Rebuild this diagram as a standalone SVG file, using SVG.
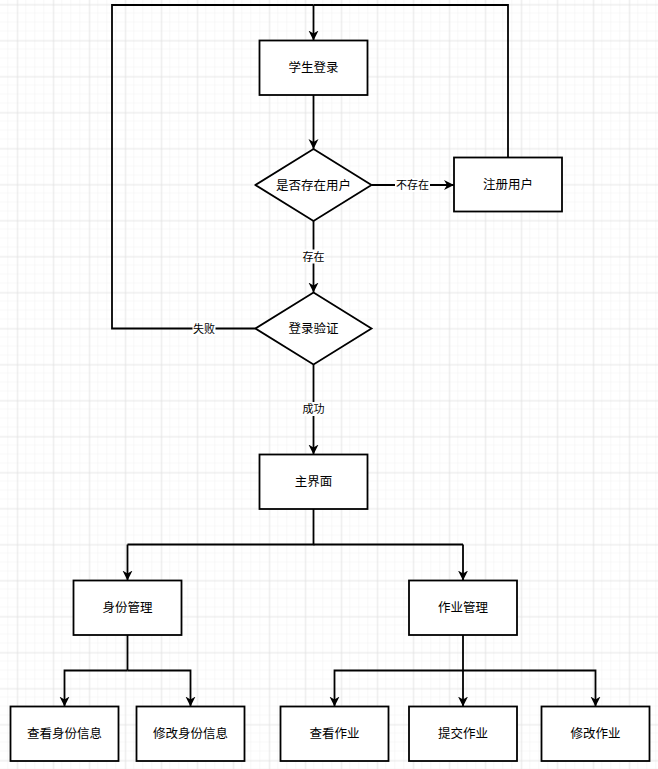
<svg xmlns="http://www.w3.org/2000/svg" width="658" height="769" viewBox="0 0 658 769">
<defs>
<pattern id="minor" x="8.3" y="4.5" width="9" height="9" patternUnits="userSpaceOnUse">
<path d="M9 0V9M0 9H9" fill="none" stroke="#f0f0f0" stroke-width="1"/>
</pattern>
<pattern id="major" x="17.3" y="4.5" width="36" height="36" patternUnits="userSpaceOnUse">
<path d="M0 0V36M0 0H36" fill="none" stroke="#dadada" stroke-width="1"/>
</pattern>
<marker id="arr" markerUnits="userSpaceOnUse" viewBox="0 0 10 10" refX="10" refY="5" markerWidth="10" markerHeight="11" orient="auto">
<path d="M0 0L10 5L0 10L3 5Z" fill="#000"/>
</marker>
</defs>
<style>
.n{fill:#fff;stroke:#000;stroke-width:1.8}
.t{font-family:"Noto Sans CJK SC","Noto Sans",sans-serif;font-size:12.5px;fill:#000;text-anchor:middle;dominant-baseline:central}
.l{font-family:"Noto Sans CJK SC","Noto Sans",sans-serif;font-size:11px;fill:#000;text-anchor:middle;dominant-baseline:central}
.e{fill:none;stroke:#000;stroke-width:1.8}
.a{marker-end:url(#arr)}
.lb{fill:#fff}
</style>
<rect width="658" height="769" fill="#fff"/>
<rect width="658" height="769" fill="url(#minor)"/>
<rect width="658" height="769" fill="url(#major)"/>
<g id="connectors">
<path class="e" d="M508 157.5V5H313.5"/>
<path class="e" d="M255.5 328.5H112V5H313.5"/>
<path class="e a" d="M313.5 5V40.5"/>
<path class="e a" d="M313.5 95V149"/>
<path class="e a" d="M371.5 185H454"/>
<path class="e a" d="M313.5 221V292.5"/>
<path class="e a" d="M313.5 364.5V454.5"/>
<path class="e" d="M313.5 509V544.5H127.5"/>
<path class="e" d="M313.5 544.5H463"/>
<path class="e a" d="M127.5 544.5V580.5"/>
<path class="e a" d="M463 544.5V580.5"/>
<path class="e" d="M127.5 635V670.5"/>
<path class="e a" d="M127.5 670.5H64.5V706.5"/>
<path class="e a" d="M127.5 670.5H190.5V706.5"/>
<path class="e a" d="M463 635V706.5"/>
<path class="e a" d="M463 670.5H334.5V706.5"/>
<path class="e a" d="M463 670.5H595.5V706.5"/>
<rect class="lb" x="395" y="178" width="35" height="14"/>
<text class="l" x="412.5" y="184">不存在</text>
<rect class="lb" x="302" y="249.5" width="23" height="14"/>
<text class="l" x="313.5" y="255.5">存在</text>
<rect class="lb" x="192.5" y="321.5" width="23" height="14"/>
<text class="l" x="204" y="327.5">失败</text>
<rect class="lb" x="302" y="402" width="23" height="14"/>
<text class="l" x="313.5" y="408">成功</text>
</g>
<g id="n-login"><rect class="n" x="259.5" y="40.5" width="108" height="54.5"/><text class="t" x="313.5" y="66.5">学生登录</text></g>
<g id="n-exist"><path class="n" d="M313.5 149L371.5 185L313.5 221L255.5 185Z"/><text class="t" x="313.5" y="184">是否存在用户</text></g>
<g id="n-register"><rect class="n" x="454" y="157.5" width="108" height="54"/><text class="t" x="508" y="183.5">注册用户</text></g>
<g id="n-verify"><path class="n" d="M313.5 292.5L371.5 328.5L313.5 364.5L255.5 328.5Z"/><text class="t" x="313.5" y="327.5">登录验证</text></g>
<g id="n-main"><rect class="n" x="259.5" y="454.5" width="108" height="54.5"/><text class="t" x="313.5" y="480.5">主界面</text></g>
<g id="n-identity"><rect class="n" x="73.5" y="580.5" width="108" height="54.5"/><text class="t" x="127.5" y="606.5">身份管理</text></g>
<g id="n-homework"><rect class="n" x="409" y="580.5" width="108" height="54.5"/><text class="t" x="463" y="606.5">作业管理</text></g>
<g id="n-viewid"><rect class="n" x="10.5" y="706.5" width="108" height="54.5"/><text class="t" x="64.5" y="732.5">查看身份信息</text></g>
<g id="n-editid"><rect class="n" x="136.5" y="706.5" width="108" height="54.5"/><text class="t" x="190.5" y="732.5">修改身份信息</text></g>
<g id="n-viewhw"><rect class="n" x="280.5" y="706.5" width="108" height="54.5"/><text class="t" x="334.5" y="732.5">查看作业</text></g>
<g id="n-submithw"><rect class="n" x="409" y="706.5" width="108" height="54.5"/><text class="t" x="463" y="732.5">提交作业</text></g>
<g id="n-edithw"><rect class="n" x="541.5" y="706.5" width="108" height="54.5"/><text class="t" x="595.5" y="732.5">修改作业</text></g>
</svg>
